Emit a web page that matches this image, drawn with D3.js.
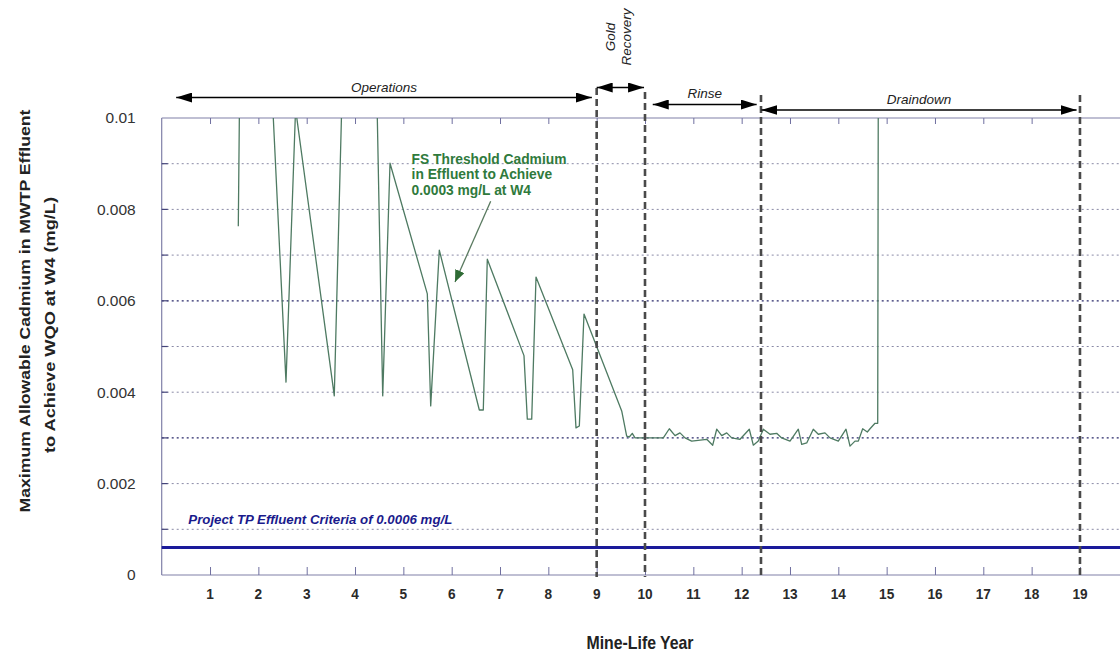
<!DOCTYPE html>
<html>
<head>
<meta charset="utf-8">
<script src="https://cdn.jsdelivr.net/npm/d3@7"></script>
<style>
  html, body { margin: 0; padding: 0; background: #fff; }
  svg { display: block; font-family: Arial, "Liberation Sans", sans-serif; }
</style>
</head>
<body>
<svg id="chart" width="1120" height="652"></svg>
<script>
// Mine-life year of each modelled point and the allowable cadmium (mg/L)
const seriesYear = [
  1.585, 1.62, 2.25, 2.572, 2.77, 3.571, 3.76, 4.43, 4.573, 4.724,
  5.496, 5.566, 5.744, 6.572, 6.654, 6.737, 7.496, 7.565, 7.656, 7.745,
  8.504, 8.572, 8.641, 8.738, 9.518, 9.621, 9.675, 9.737, 9.793, 10.379,
  10.503, 10.621, 10.724, 10.828, 10.966, 11.277, 11.401, 11.484, 11.587, 11.691,
  11.794, 11.966, 12.158, 12.241, 12.344, 12.448, 12.586, 12.725, 12.828, 13.0,
  13.172, 13.242, 13.346, 13.482, 13.586, 13.724, 13.828, 14.0, 14.159, 14.242,
  14.345, 14.414, 14.504, 14.6, 14.656, 14.759, 14.815, 14.83, 20.0
];
const seriesCadmium = [
  0.00763, 0.0115, 0.0113, 0.00422, 0.0102, 0.00392, 0.0117, 0.0117, 0.00392, 0.00901,
  0.00615, 0.00370, 0.00711, 0.00361, 0.00361, 0.00691, 0.00480, 0.00341, 0.00341, 0.00652,
  0.00449, 0.00322, 0.00326, 0.00571, 0.00359, 0.00304, 0.00302, 0.00310, 0.00300, 0.00300,
  0.00320, 0.00305, 0.00311, 0.00300, 0.00293, 0.00297, 0.00284, 0.00319, 0.00305, 0.00311,
  0.00300, 0.00297, 0.00319, 0.00284, 0.00293, 0.00319, 0.00308, 0.00310, 0.00300, 0.00293,
  0.00319, 0.00286, 0.00289, 0.00319, 0.00308, 0.00311, 0.00300, 0.00293, 0.00319, 0.00282,
  0.00293, 0.00293, 0.00320, 0.00313, 0.00320, 0.00332, 0.00332, 0.0125, 0.0125
];

// Effluent criterion (mg/L)
const criterionValue = 0.0006;
const criterionLabel = "Project TP Effluent Criteria of 0.0006 mg/L";

// Phase boundaries (mine-life year) and phase arrows
const phaseBoundaries = [9, 10, 12.4, 19];
const phaseNames = ["Operations", "Gold Recovery", "Rinse", "Draindown"];
const phaseStart = [0.3, 9.0, 10.16, 12.41];
const phaseEnd = [8.9, 9.98, 12.31, 18.93];

// Axis ticks
const xTickYears = d3.range(1, 20);
const yTickValues = [0, 0.002, 0.004, 0.006, 0.008, 0.01];
const yTickLabels = ["0", "0.002", "0.004", "0.006", "0.008", "0.01"];
const gridValues = [0.001, 0.002, 0.003, 0.004, 0.005, 0.006, 0.007, 0.008, 0.009];
const strongGrid = [0.003, 0.006];

// Annotation text for the series
const seriesNote = ["FS Threshold Cadmium", "in Effluent to Achieve", "0.0003 mg/L at W4"];

const svg = d3.select("#chart");
const plotLeft = 161.7, plotTop = 118, plotBottom = 575;
const x = d3.scaleLinear().domain([0, 20]).range([plotLeft, plotLeft + 48.33 * 20]);
const y = d3.scaleLinear().domain([0, 0.01]).range([plotBottom, plotTop]);

svg.append("rect").attr("width", 1120).attr("height", 652).attr("fill", "#fff");

const defs = svg.append("defs");
defs.append("clipPath").attr("id", "plot-clip")
  .append("rect").attr("x", plotLeft).attr("y", plotTop)
  .attr("width", 1120 - plotLeft).attr("height", plotBottom - plotTop);
defs.append("marker").attr("id", "head-black")
  .attr("viewBox", "0 0 16 10").attr("refX", 16).attr("refY", 5)
  .attr("markerWidth", 16).attr("markerHeight", 10).attr("markerUnits", "userSpaceOnUse")
  .attr("orient", "auto-start-reverse")
  .append("path").attr("d", "M0,0 L16,5 L0,10 Z").attr("fill", "#000");
defs.append("marker").attr("id", "head-green")
  .attr("viewBox", "0 0 12 10").attr("refX", 12).attr("refY", 5)
  .attr("markerWidth", 12).attr("markerHeight", 10).attr("markerUnits", "userSpaceOnUse")
  .attr("orient", "auto")
  .append("path").attr("d", "M0,0 L12,5 L0,10 Z").attr("fill", "#2f6b35");

// Horizontal dotted grid
svg.append("g").selectAll("line").data(gridValues).join("line")
  .attr("x1", plotLeft).attr("x2", 1120)
  .attr("y1", d => y(d)).attr("y2", d => y(d))
  .attr("stroke", d => strongGrid.includes(d) ? "#2a2a6a" : "#8a8aa6")
  .attr("stroke-width", d => strongGrid.includes(d) ? 1.2 : 1)
  .attr("stroke-dasharray", "2,3");

// Frame lines
svg.append("line").attr("x1", plotLeft).attr("x2", 1120).attr("y1", plotTop).attr("y2", plotTop)
  .attr("stroke", "#8080a8").attr("stroke-width", 1.2);
svg.append("line").attr("x1", plotLeft).attr("x2", 1120).attr("y1", plotBottom).attr("y2", plotBottom)
  .attr("stroke", "#8080a8").attr("stroke-width", 1.2);
svg.append("line").attr("x1", plotLeft).attr("x2", plotLeft).attr("y1", plotTop).attr("y2", plotBottom)
  .attr("stroke", "#8080a8").attr("stroke-width", 1.2);

// Inward ticks on the top and bottom edges
const xAxisBottom = d3.axisBottom(x).tickValues(xTickYears).tickSize(-8).tickFormat("");
const xAxisTop = d3.axisTop(x).tickValues(xTickYears).tickSize(-6).tickFormat("");
svg.append("g").attr("transform", `translate(0,${plotBottom})`).call(xAxisBottom)
  .call(g => g.select(".domain").remove())
  .call(g => g.selectAll("line").attr("stroke", "#7070a0"));
svg.append("g").attr("transform", `translate(0,${plotTop})`).call(xAxisTop)
  .call(g => g.select(".domain").remove())
  .call(g => g.selectAll("line").attr("stroke", "#7070a0"));

// X tick labels (slightly condensed)
svg.append("g").selectAll("text").data(xTickYears).join("text")
  .attr("transform", d => `translate(${x(d)},599) scale(0.88,1)`)
  .attr("text-anchor", "middle")
  .attr("font-size", 15.5).attr("font-weight", "bold").attr("fill", "#2a2a2a")
  .text(d => d);

// Y axis labels
const yAxis = d3.axisLeft(y).tickValues(yTickValues).tickSize(0)
  .tickFormat((d, i) => yTickLabels[i]);
svg.append("g").attr("transform", `translate(${plotLeft - 23},0)`).call(yAxis)
  .call(g => g.select(".domain").remove())
  .call(g => g.selectAll("text").attr("font-size", 15.5).attr("fill", "#333")
    .attr("font-family", "Arial, 'Liberation Sans', sans-serif"));

// Small left ticks on each grid level
svg.append("g").selectAll("line").data(gridValues).join("line")
  .attr("x1", plotLeft).attr("x2", plotLeft + 6)
  .attr("y1", d => y(d)).attr("y2", d => y(d))
  .attr("stroke", "#44447a").attr("stroke-width", 1.2);

// Criterion line
svg.append("line").attr("x1", plotLeft).attr("x2", 1120)
  .attr("y1", y(criterionValue)).attr("y2", y(criterionValue))
  .attr("stroke", "#1a1a9a").attr("stroke-width", 3);
svg.append("text").attr("x", x(0.55)).attr("y", y(criterionValue) - 24)
  .attr("font-size", 13).attr("font-weight", "bold").attr("font-style", "italic")
  .attr("textLength", 264).attr("lengthAdjust", "spacingAndGlyphs")
  .attr("fill", "#1a1a8c").text(criterionLabel);

// Cadmium series
const line = d3.line().x((d, i) => x(seriesYear[i])).y(d => y(d));
svg.append("path").datum(seriesCadmium)
  .attr("clip-path", "url(#plot-clip)")
  .attr("d", line)
  .attr("fill", "none").attr("stroke", "#4e7a62").attr("stroke-width", 1.3)
  .attr("stroke-linejoin", "round");

// Phase boundary lines
svg.append("g").selectAll("line").data(phaseBoundaries).join("line")
  .attr("x1", d => x(d)).attr("x2", d => x(d))
  .attr("y1", (d, i) => [88, 92, 95, 95][i]).attr("y2", plotBottom + 2)
  .attr("stroke", "#4a4a4a").attr("stroke-width", 2.6)
  .attr("stroke-dasharray", "7,4");

// Phase arrows and names
const arrowY = [97.5, 87.5, 104.5, 110];
svg.append("g").selectAll("line").data(phaseNames).join("line")
  .attr("x1", (d, i) => x(phaseStart[i])).attr("x2", (d, i) => x(phaseEnd[i]))
  .attr("y1", (d, i) => arrowY[i]).attr("y2", (d, i) => arrowY[i])
  .attr("stroke", "#000").attr("stroke-width", 1.6)
  .attr("marker-start", "url(#head-black)").attr("marker-end", "url(#head-black)");

const nameStyle = sel => sel.attr("font-size", 13.5).attr("font-style", "italic").attr("fill", "#222");
[0, 2, 3].forEach(i => {
  svg.append("text")
    .attr("x", x((phaseStart[i] + phaseEnd[i]) / 2)).attr("y", [92, 0, 98, 104][i])
    .attr("text-anchor", "middle").call(nameStyle).text(phaseNames[i]);
});
const goldWords = phaseNames[1].split(" ");
goldWords.forEach((w, k) => {
  svg.append("text")
    .attr("transform", `translate(${[615, 631][k]},37) rotate(-90)`)
    .attr("text-anchor", "middle").call(nameStyle).text(w);
});

// Series annotation
const noteG = svg.append("g");
seriesNote.forEach((t, k) => {
  noteG.append("text").attr("x", x(5.17)).attr("y", 164 + k * 15.4)
    .attr("font-size", 13.8).attr("font-weight", "bold").attr("fill", "#2f7a3c").text(t);
});
noteG.append("line")
  .attr("x1", x(6.807)).attr("y1", y(0.00818))
  .attr("x2", x(6.069)).attr("y2", y(0.00641))
  .attr("stroke", "#5a7a60").attr("stroke-width", 1.3)
  .attr("marker-end", "url(#head-green)");

// Axis titles
const yTitle = ["Maximum Allowable Cadmium in MWTP Effluent", "to Achieve WQO at W4 (mg/L)"];
const yTitleX = [30, 55], yTitleMid = [311, 325], yTitleLen = [403, 256];
yTitle.forEach((t, k) => {
  svg.append("text")
    .attr("transform", `translate(${yTitleX[k]},${yTitleMid[k]}) rotate(-90)`)
    .attr("text-anchor", "middle").attr("font-size", 15).attr("font-weight", "bold")
    .attr("textLength", yTitleLen[k]).attr("lengthAdjust", "spacingAndGlyphs")
    .attr("fill", "#222").text(t);
});
svg.append("text").attr("transform", "translate(640,649) scale(0.88,1)")
  .attr("text-anchor", "middle")
  .attr("font-size", 18).attr("font-weight", "bold").attr("fill", "#222").text("Mine-Life Year");
</script>
</body>
</html>
